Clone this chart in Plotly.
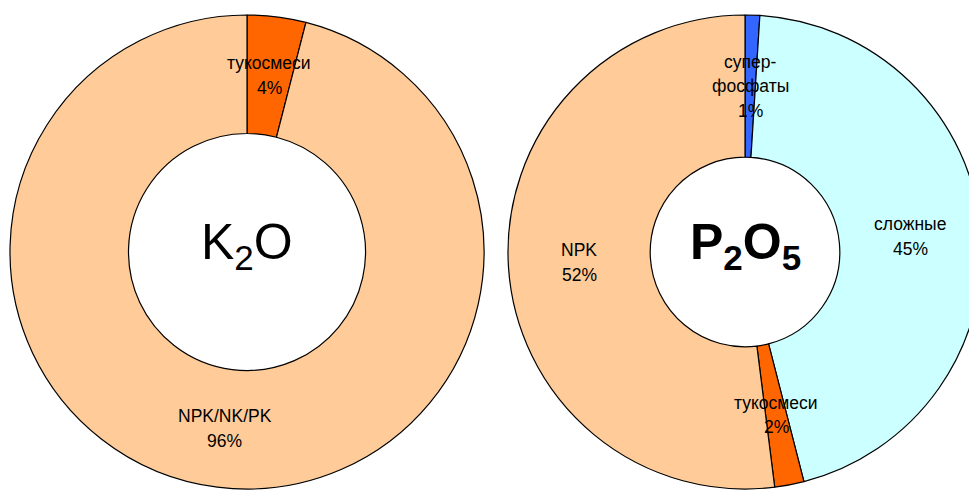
import math
import plotly.graph_objects as go

# K2O breakdown
k2o_labels = ["тукосмеси", "NPK/NK/PK"]
k2o_values = [4, 96]
k2o_colors = ["#FF6600", "#FFCC99"]

# P2O5 breakdown
p2o5_labels = ["супер-<br>фосфаты", "сложные", "тукосмеси", "NPK"]
p2o5_values = [1, 45, 2, 52]
p2o5_colors = ["#3366FF", "#CCFFFF", "#FF6600", "#FFCC99"]

W, H = 990, 493
FONT = "Liberation Sans, Arial, sans-serif"
LABEL_SIZE = 17.5
LINE_STEP = 24.5

# donut placement in pixels: left, top, diameter
k2o_box = (10, 15, 474)
p2o5_box = (508, 15, 474)
k2o_hole = 0.5
p2o5_hole = 0.4


def domain(box):
    left, top, d = box
    return dict(x=[left / W, (left + d) / W], y=[(H - top - d) / H, (H - top) / H])


def donut(labels, values, colors, box, hole):
    return go.Pie(
        labels=labels, values=values, hole=hole, sort=False,
        direction="clockwise", rotation=0, textinfo="none",
        marker=dict(colors=colors, line=dict(color="black", width=1.2)),
        domain=domain(box), showlegend=False, hoverinfo="label+percent",
    )


def slice_labels(labels, values, box, hole):
    """Place name + percent at the middle of each ring segment."""
    left, top, d = box
    cx, cy, R = left + d / 2, top + d / 2, d / 2
    rmid = R * (1 + hole) / 2
    total = sum(values)
    notes = []
    cum = 0
    for lab, v in zip(labels, values):
        theta = 2 * math.pi * (cum + v / 2) / total
        cum += v
        px = cx + rmid * math.sin(theta)
        py = cy - rmid * math.cos(theta)
        lines = lab.split("<br>") + [f"{round(v / total * 100)}%"]
        n = len(lines)
        for i, line in enumerate(lines):
            ly = py + (i - (n - 1) / 2) * LINE_STEP
            notes.append(dict(
                x=px / W, y=1 - ly / H, xref="paper", yref="paper",
                text=line, showarrow=False, xanchor="center", yanchor="middle",
                font=dict(family=FONT, size=LABEL_SIZE, color="black"),
            ))
    return notes


def centre_title(text, box, bold, dy):
    left, top, d = box
    cx, cy = left + d / 2, top + d / 2
    if bold:
        text = f"<b>{text}</b>"
    return dict(
        x=cx / W, y=1 - (cy + dy) / H, xref="paper", yref="paper",
        text=text, showarrow=False, xanchor="center", yanchor="middle",
        font=dict(family=FONT, size=50, color="black"),
    )


fig = go.Figure([
    donut(k2o_labels, k2o_values, k2o_colors, k2o_box, k2o_hole),
    donut(p2o5_labels, p2o5_values, p2o5_colors, p2o5_box, p2o5_hole),
])

annotations = []
annotations += slice_labels(k2o_labels, k2o_values, k2o_box, k2o_hole)
annotations += slice_labels(p2o5_labels, p2o5_values, p2o5_box, p2o5_hole)
annotations.append(centre_title("K<sub>2</sub>O", k2o_box, False, -7))
annotations.append(centre_title("P<sub>2</sub>O<sub>5</sub>", p2o5_box, True, -7))

fig.update_layout(
    width=W, height=H,
    margin=dict(l=0, r=0, t=0, b=0),
    paper_bgcolor="white", plot_bgcolor="white",
    annotations=annotations,
)

fig.write_html(
    "out.html",
    config={"displayModeBar": False},
    post_script="document.body.style.overflow='hidden';"
                "document.documentElement.style.overflow='hidden';",
)
